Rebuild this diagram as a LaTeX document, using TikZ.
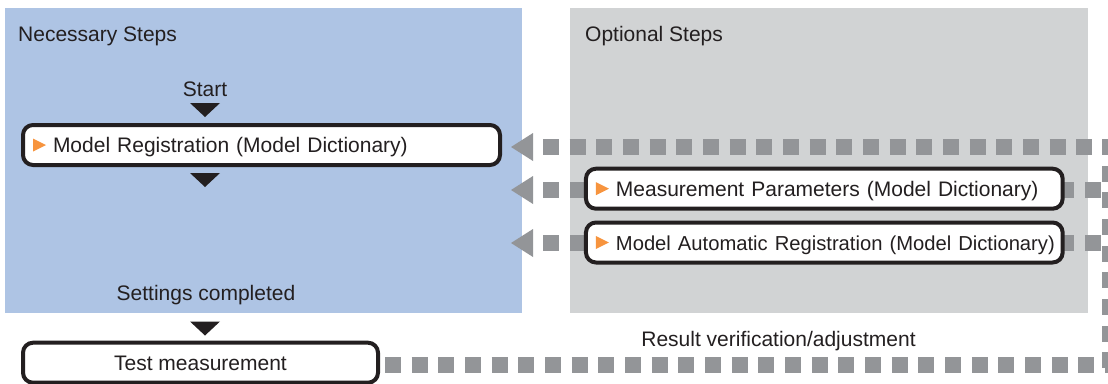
\documentclass[tikz,border=0pt]{standalone}
\usepackage{fontspec}
\setmainfont{Liberation Sans}
\usetikzlibrary{arrows.meta,positioning}
\begin{document}
\begin{tikzpicture}[x=1pt,y=-1pt,line join=round,font=\fontsize{21}{25}\selectfont]
            \definecolor{panelblue}{RGB}{174,196,228}
            \definecolor{panelgray}{RGB}{209,211,212}
            \definecolor{linkgray}{RGB}{147,149,152}
            \definecolor{markorange}{RGB}{247,148,62}
            \definecolor{boxline}{RGB}{35,31,32}
            \tikzset{
                steplabel/.style={inner sep=0pt,text=boxline},
                stepbox/.style={draw=boxline,fill=white,text=boxline,line width=4pt,rounded corners=10pt,
                    minimum height=40pt,inner ysep=0pt,text height=15pt,text depth=0pt},
                linkdash/.style={draw=linkgray,line width=16pt,dash pattern=on 16pt off 10.67pt},
                backarrow/.style={linkdash,{Triangle[length=22pt,width=28pt,line width=0pt]}-},
                downmark/.pic={\fill[boxline] (-15,0)--(15,0)--(0,14)--cycle;},
                stepmark/.pic={\fill[markorange] (0,-6.5)--(13,0)--(0,6.5)--cycle;}
            }
            \useasboundingbox (0,0) rectangle (1108,383);
            \clip (0,0) rectangle (1108,383);
            % panels
            \fill[panelblue] (5,8) rectangle (522,313);
            \fill[panelgray] (570,8) rectangle (1088,313);
            \node[steplabel,anchor=base west] (necessary) at (18,41) {Necessary Steps};
            \node[steplabel,anchor=base west] (optional) at (585,41) {Optional Steps};
            % free ends of the links
            \coordinate (regtip) at (511,147);
            \coordinate (regend) at (1118,147);
            \coordinate (paramtip) at (511,190);
            \coordinate (paramend) at (1110,190);
            \coordinate (autotip) at (511,243);
            \coordinate (autoend) at (1110,243);
            \coordinate (cornertop) at (1110,139);
            \coordinate (cornerbot) at (1110,373);
            \coordinate (resultend) at (1118,365);
            \draw[backarrow,dash phase=16.67pt] (regtip) -- (regend);
            \draw[backarrow,dash pattern=on 16pt off 11.1pt,dash phase=17.1pt] (paramtip) -- (paramend);
            \draw[backarrow,dash pattern=on 16pt off 11.1pt,dash phase=17.1pt] (autotip) -- (autoend);
            \draw[linkdash] (cornertop) -- (cornerbot);
            % steps
            \node[steplabel,anchor=base] (start) at (205,96) {Start};
            \pic at (205,103) {downmark};
            \node[stepbox,text width=417pt,inner xsep=30pt,align=left] (modelreg) at (261.5,145)
                {\mbox{Model Registration (Model Dictionary)}};
            \pic at ([xshift=12pt]modelreg.west) {stepmark};
            \pic at (205,173) {downmark};
            \node[stepbox,text width=416.7pt,inner xsep=30pt,align=left] (measparam) at (824.3,188.7)
                {\mbox{Measurement Parameters (Model Dictionary)}};
            \pic at ([xshift=12pt]measparam.west) {stepmark};
            \node[stepbox,text width=416.7pt,inner xsep=30pt,align=left] (autoreg) at (824.3,242.5)
                {\mbox{\fontsize{20.2}{25}\selectfont Model Automatic Registration (Model Dictionary)}};
            \pic at ([xshift=12pt]autoreg.west) {stepmark};
            \node[steplabel,anchor=base] (completed) at (206,300) {Settings completed};
            \pic at (205,321.5) {downmark};
            \node[stepbox,minimum width=355pt] (testmeas) at (200.5,362.7) {Test measurement};
            \draw[linkdash,dash phase=21.67pt] (testmeas.east |- resultend) -- (resultend);
            \node[steplabel,anchor=base] (result) at (778.5,346.7) {Result verification/adjustment};
\end{tikzpicture}
\end{document}
